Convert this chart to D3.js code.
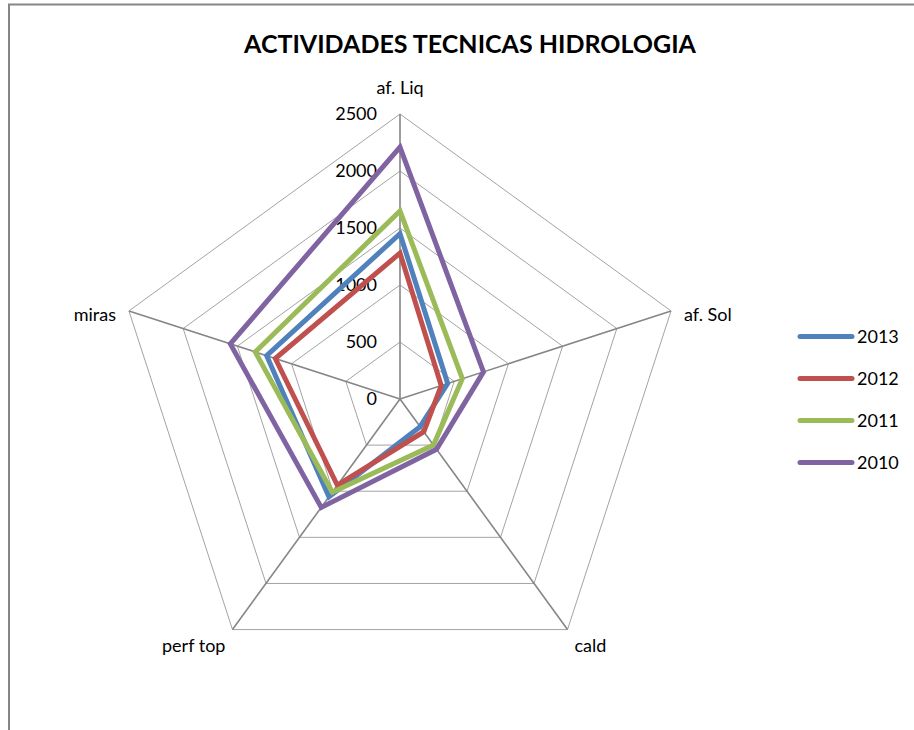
<!DOCTYPE html>
<html>
<head>
<meta charset="utf-8">
<script src="https://cdn.jsdelivr.net/npm/d3@7"></script>
<style>
  body { margin: 0; background: #fff; }
  svg { font-family: Lato, "Open Sans", sans-serif; }
</style>
</head>
<body>
<div id="chart"></div>
<script>
// data
const axesNames = ["af. Liq", "af. Sol", "cald", "perf top", "miras"];
const years = ["2013", "2012", "2011", "2010"];
const s2013 = [1450, 440, 300, 1060, 1230];
const s2012 = [1280, 380, 355, 935, 1150];
const s2011 = [1650, 575, 500, 1010, 1335];
const s2010 = [2210, 770, 545, 1175, 1565];
const tickValues = [0, 500, 1000, 1500, 2000, 2500];
const colors = ["#4F81BD", "#C0504D", "#9BBB59", "#8064A2"];

document.addEventListener("DOMContentLoaded", function() {
    const width = 914, height = 730;
    const cx = 400, cy = 399, R = 285;

    const svg = d3.select("#chart").append("svg")
        .attr("width", width)
        .attr("height", height);

    // frame (cut off at right/bottom)
    svg.append("path")
        .attr("d", `M9,${height + 2}V4.5H${width + 2}`)
        .attr("fill", "none")
        .attr("stroke", "#868686")
        .attr("stroke-width", 2);

    svg.append("text")
        .attr("x", 470)
        .attr("y", 53)
        .attr("text-anchor", "middle")
        .attr("font-size", 25)
        .attr("font-weight", "bold")
        .text("ACTIVIDADES TECNICAS HIDROLOGIA");

    const r = d3.scaleLinear().domain([0, 2500]).range([0, R]);
    const angle = d3.scaleLinear().domain([0, axesNames.length]).range([0, 2 * Math.PI]);

    const pt = (i, v) => [cx + r(v) * Math.sin(angle(i)), cy - r(v) * Math.cos(angle(i))];

    const g = svg.append("g");

    // rings
    tickValues.slice(1).forEach(t => {
        g.append("path")
            .attr("d", d3.line()(axesNames.map((a, i) => pt(i, t))) + "Z")
            .attr("fill", "none")
            .attr("stroke", "#8c8c8c")
            .attr("stroke-width", 0.8);
    });

    // spokes
    axesNames.forEach((a, i) => {
        const [x2, y2] = pt(i, 2500);
        g.append("line")
            .attr("x1", cx).attr("y1", cy)
            .attr("x2", x2).attr("y2", y2)
            .attr("stroke", "#868686")
            .attr("stroke-width", 1.6);
    });

    // value labels along first axis
    tickValues.forEach(t => {
        g.append("text")
            .attr("x", cx - 23)
            .attr("y", cy - r(t))
            .attr("dy", "0.35em")
            .attr("text-anchor", "end")
            .attr("font-size", 18)
            .attr("fill", "#000")
            .text(t);
    });

    // category labels
    const labelPos = [
        {dx: 0, dy: -26, anchor: "middle"},
        {dx: 13, dy: 4, anchor: "start"},
        {dx: 7, dy: 16, anchor: "start"},
        {dx: -7, dy: 16, anchor: "end"},
        {dx: -13, dy: 4, anchor: "end"}
    ];
    axesNames.forEach((a, i) => {
        const [x, y] = pt(i, 2500);
        g.append("text")
            .attr("x", x + labelPos[i].dx)
            .attr("y", y + labelPos[i].dy)
            .attr("dy", "0.35em")
            .attr("text-anchor", labelPos[i].anchor)
            .attr("font-size", 18)
            .text(a);
    });

    // series
    const series = [s2013, s2012, s2011, s2010];
    series.forEach((vals, k) => {
        g.append("path")
            .attr("d", d3.line()(vals.map((v, i) => pt(i, v))) + "Z")
            .attr("fill", "none")
            .attr("stroke", colors[k])
            .attr("stroke-width", 5)
            .attr("stroke-linejoin", "miter");
    });

    // legend
    const legend = svg.append("g");
    years.forEach((yr, k) => {
        const y = 336.5 + k * 42;
        legend.append("line")
            .attr("x1", 800).attr("x2", 852)
            .attr("y1", y).attr("y2", y)
            .attr("stroke", colors[k])
            .attr("stroke-width", 5)
            .attr("stroke-linecap", "round");
        legend.append("text")
            .attr("x", 857)
            .attr("y", y)
            .attr("dy", "0.35em")
            .attr("font-size", 18)
            .text(yr);
    });
});
</script>
</body>
</html>
